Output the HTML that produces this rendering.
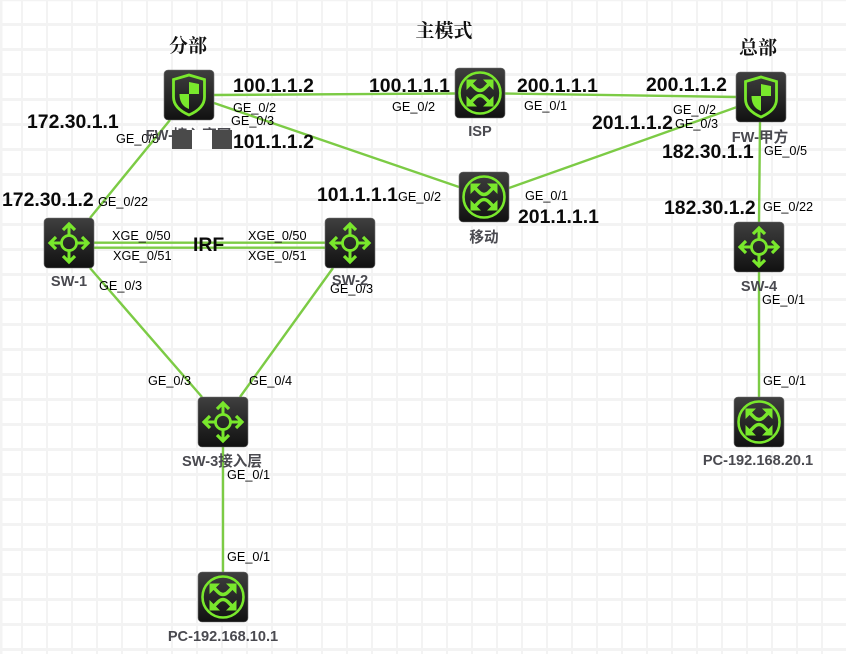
<!DOCTYPE html>
<html><head><meta charset="utf-8"><style>
html,body{margin:0;padding:0;background:#fff;width:846px;height:654px;overflow:hidden}
svg{display:block}
text{font-family:"Liberation Sans","Noto Sans CJK SC",sans-serif}
.b{font-size:19.4px;font-weight:700;fill:#0a0a0a}
.s{font-size:12.7px;fill:#000}
.n{font-size:14.6px;font-weight:700;fill:#4a4a50;text-anchor:middle}
.t{font-size:19px;font-weight:700;fill:#111;text-anchor:middle;font-family:"Noto Serif CJK SC",serif}
.l{stroke:#7ccb45;stroke-width:2.4;fill:none}
</style></head><body>
<svg width="846" height="654" viewBox="0 0 846 654" xmlns="http://www.w3.org/2000/svg">
<defs>
<linearGradient id="g" x1="0" y1="0" x2="0" y2="1"><stop offset="0" stop-color="#3f3f3f"/><stop offset="1" stop-color="#111"/></linearGradient>
<pattern id="grid" width="25" height="25" patternUnits="userSpaceOnUse" x="-4" y="-2">
<rect x="0" y="0" width="2" height="25" fill="#f3f3f3"/><rect x="0" y="0" width="25" height="3" fill="#f3f3f3"/>
</pattern>
<g id="box"><rect x="0" y="0" width="50" height="50" rx="4" fill="url(#g)" stroke="#777" stroke-width=".6"/></g>
<g id="sw"><use href="#box"/>
<g fill="none" stroke="#79e82c" stroke-width="2.8"><circle cx="25" cy="25" r="7.5"/>
<path d="M25 17V6M25 33V44M17 25H6M33 25H44" stroke-width="3"/>
<path d="M19 12L25 6L31 12M19 38L25 44L31 38M12 19L6 25L12 31M38 19L44 25L38 31" stroke-width="3.2"/></g></g>
<g id="rt"><use href="#box"/>
<circle cx="25" cy="25" r="20.5" fill="none" stroke="#79e82c" stroke-width="2.6"/>
<g fill="none" stroke="#79e82c" stroke-width="3.4"><path d="M14 14L20 20Q25 25 30 20L36 14M14 36L20 30Q25 25 30 30L36 36"/></g>
<g fill="#79e82c"><path d="M11.500 11.500H22L11.500 22ZM38.500 11.500H28L38.500 22ZM11.500 38.500H22L11.500 28ZM38.500 38.500H28L38.500 28Z"/></g></g>
<g id="fw"><use href="#box"/>
<path d="M25 5L40.500 9.500V27C40.500 36 33 41.500 25 45C17 41.500 9.500 36 9.500 27V9.500Z" fill="none" stroke="#79e82c" stroke-width="2.8"/>
<path d="M25 12L35 14V24H25ZM25 24V39C20 37 15.500 33 15.500 24Z" fill="#79e82c"/></g>
</defs>
<rect width="846" height="654" fill="#fff"/>
<rect width="846" height="654" fill="url(#grid)"/>
<rect x="0" y="0" width="846" height="1.2" fill="#f3f3f3"/>
<rect x="0" y="0" width="2.5" height="654" fill="#f3f3f3"/>

<path class="l" d="M214 95L455 93.500M505 93.500L737 97M214 103L459 187M509 188L737 107M760 122L759 222M759 272V397M170 120L90 218M90 268L202 397M333 268L240 397M223 447V572"/>
<path class="l" d="M94 242.700H325M94 247.700H325"/>

<use href="#fw" x="164" y="70"/>
<use href="#rt" x="455" y="68"/>
<use href="#fw" x="736" y="72"/>
<use href="#rt" x="459" y="172"/>
<use href="#sw" x="44" y="218"/>
<use href="#sw" x="325" y="218"/>
<use href="#sw" x="198" y="397"/>
<use href="#sw" x="734" y="222"/>
<use href="#rt" x="734" y="397"/>
<use href="#rt" x="198" y="572"/>

<text class="t" x="188" y="52">分部</text>
<text class="t" x="444" y="37">主模式</text>
<text class="t" x="758" y="54">总部</text>

<text class="b" x="233" y="92">100.1.1.2</text>
<text class="b" x="369" y="92">100.1.1.1</text>
<text class="b" x="517" y="92">200.1.1.1</text>
<text class="b" x="646" y="91">200.1.1.2</text>
<text class="b" x="27" y="128">172.30.1.1</text>
<text class="b" x="233" y="148">101.1.1.2</text>
<text class="b" x="592" y="129">201.1.1.2</text>
<text class="b" x="662" y="158">182.30.1.1</text>
<text class="b" x="664" y="214">182.30.1.2</text>
<text class="b" x="2" y="206">172.30.1.2</text>
<text class="b" x="317" y="201">101.1.1.1</text>
<text class="b" x="518" y="223">201.1.1.1</text>
<text class="b" x="193" y="251">IRF</text>

<text class="s" x="233" y="112">GE_0/2</text>
<text class="s" x="231" y="125">GE_0/3</text>
<text class="s" x="116" y="143">GE_0/5</text>
<text class="s" x="98" y="206">GE_0/22</text>
<text class="s" x="392" y="111">GE_0/2</text>
<text class="s" x="524" y="110">GE_0/1</text>
<text class="s" x="673" y="114">GE_0/2</text>
<text class="s" x="675" y="128">GE_0/3</text>
<text class="s" x="764" y="155">GE_0/5</text>
<text class="s" x="763" y="211">GE_0/22</text>
<text class="s" x="398" y="201">GE_0/2</text>
<text class="s" x="525" y="200">GE_0/1</text>
<text class="s" x="112" y="240">XGE_0/50</text>
<text class="s" x="113" y="260">XGE_0/51</text>
<text class="s" x="248" y="240">XGE_0/50</text>
<text class="s" x="248" y="260">XGE_0/51</text>
<text class="s" x="99" y="290">GE_0/3</text>
<text class="s" x="330" y="293">GE_0/3</text>
<text class="s" x="148" y="385">GE_0/3</text>
<text class="s" x="249" y="385">GE_0/4</text>
<text class="s" x="227" y="479">GE_0/1</text>
<text class="s" x="227" y="561">GE_0/1</text>
<text class="s" x="762" y="304">GE_0/1</text>
<text class="s" x="763" y="385">GE_0/1</text>

<text class="n" x="480" y="136">ISP</text>
<text class="n" x="484" y="242">移动</text>
<text class="n" x="760" y="142">FW-甲方</text>
<text class="n" x="69" y="286">SW-1</text>
<text class="n" x="350" y="285">SW-2</text>
<text class="n" x="222" y="466">SW-3接入层</text>
<text class="n" x="759" y="291">SW-4</text>
<text class="n" x="223" y="641">PC-192.168.10.1</text>
<text class="n" x="758" y="465">PC-192.168.20.1</text>
<text class="n" x="188.500" y="140">FW-接入商网</text>
<rect x="172" y="130" width="20" height="19" fill="#4a4a4a"/>
<rect x="192" y="130" width="20" height="19" fill="#fff"/>
<rect x="212" y="130" width="20" height="19" fill="#4a4a4a"/>
</svg>
</body></html>
